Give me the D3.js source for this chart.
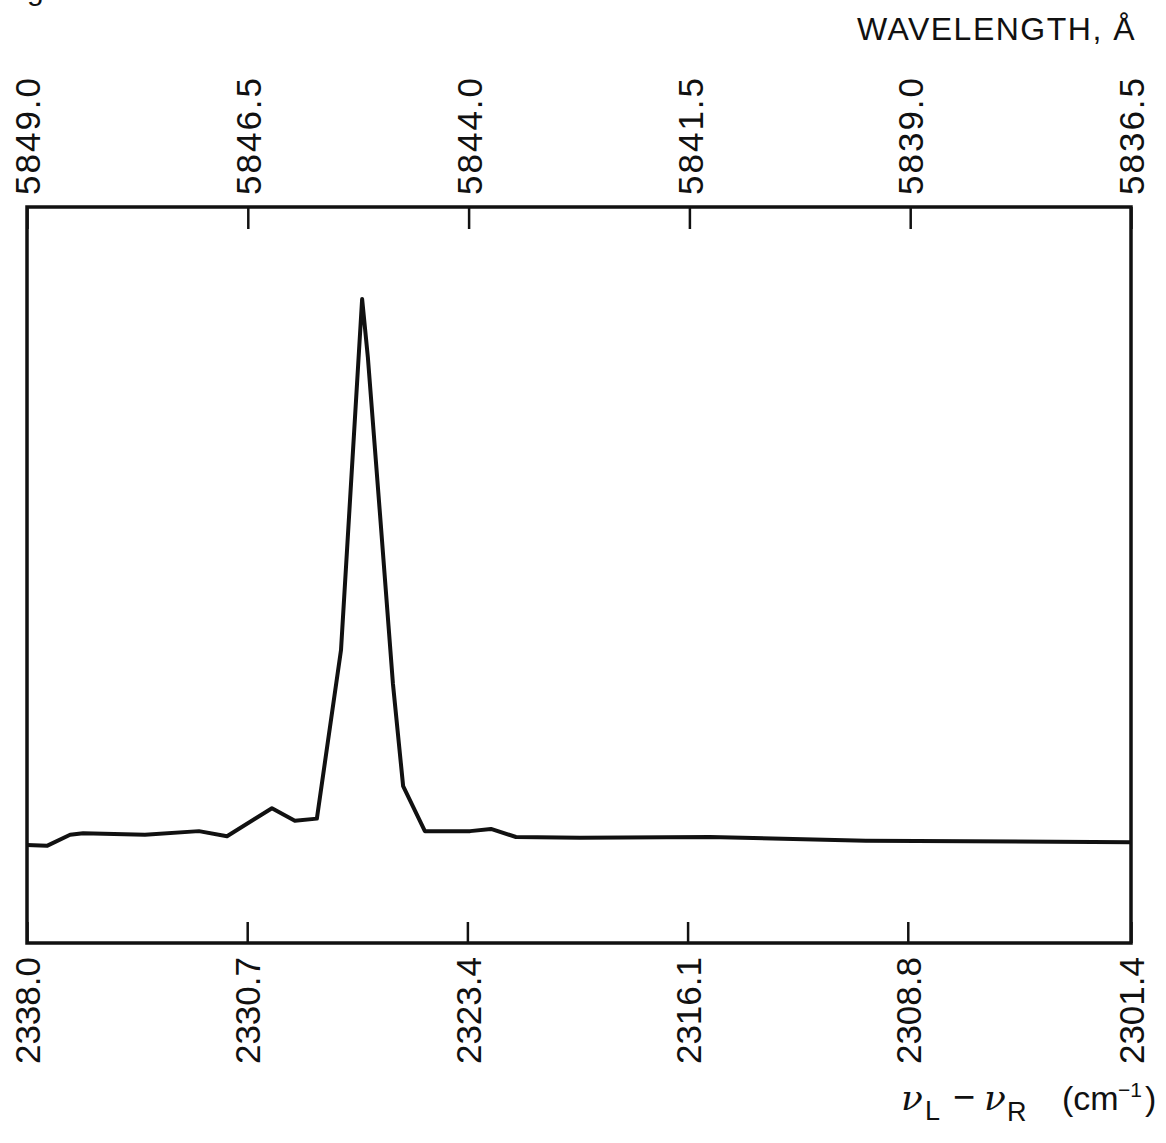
<!DOCTYPE html>
<html>
<head>
<meta charset="utf-8">
<script src="https://cdn.jsdelivr.net/npm/d3@7"></script>
<style>
  body { margin: 0; background: #fff; }
  .chart text { font-family: "Liberation Sans", Arial, sans-serif; fill: #111; }
</style>
</head>
<body>
<div class="chart"></div>
<script>
// raman shift (cm^-1) and relative signal
var shift = [2338.00, 2337.34, 2336.57, 2336.14, 2334.09, 2332.30, 2331.37, 2329.88, 2329.12, 2328.39,
  2327.59, 2326.89, 2326.70, 2326.30, 2325.87, 2325.53, 2324.81, 2323.31, 2322.62, 2321.79,
  2319.67, 2315.36, 2310.19, 2301.40];
var signal = [13.3, 13.2, 14.7, 14.9, 14.7, 15.2, 14.5, 18.3, 16.6, 16.9,
  39.8, 87.5, 79.6, 58.4, 35.3, 21.3, 15.2, 15.2, 15.5, 14.4,
  14.3, 14.4, 13.9, 13.7];

var bottomTickLabels = ["2338.0", "2330.7", "2323.4", "2316.1", "2308.8", "2301.4"];
var topTickLabels = ["5849.0", "5846.5", "5844.0", "5841.5", "5839.0", "5836.5"];

var svgWidth = 1166;
var svgHeight = 1143;

var margin = {
  top: 207,
  right: 35,
  bottom: 200,
  left: 27
};

var width = svgWidth - margin.left - margin.right;
var height = svgHeight - margin.top - margin.bottom;

var svg = d3.select(".chart")
  .append("svg")
  .attr("width", svgWidth)
  .attr("height", svgHeight);

// clipped caption at the very top of the scan
svg.append("text")
  .attr("x", 2)
  .attr("y", 0)
  .style("font-size", "30px")
  .text("Figure 3");

var chartGroup = svg.append("g")
  .attr("transform", `translate(${margin.left}, ${margin.top})`);

var xScale = d3.scaleLinear()
  .domain([2338.0, 2301.4])
  .range([0, width]);

var wlScale = d3.scaleLinear()
  .domain([5849.0, 5836.5])
  .range([0, width]);

var yScale = d3.scaleLinear()
  .domain([0, 100])
  .range([height, 0]);

var bottomAxis = d3.axisBottom(xScale)
  .tickValues(bottomTickLabels.map(Number))
  .tickFormat((d, i) => bottomTickLabels[i])
  .tickSizeInner(-21)
  .tickSizeOuter(0);

var topAxis = d3.axisTop(wlScale)
  .tickValues(topTickLabels.map(Number))
  .tickFormat((d, i) => topTickLabels[i])
  .tickSizeInner(-22)
  .tickSizeOuter(0);

var xAxis = chartGroup.append("g")
  .attr("transform", `translate(0, ${height})`)
  .call(bottomAxis);

var wAxis = chartGroup.append("g")
  .call(topAxis);

[xAxis, wAxis].forEach(function(ax) {
  ax.select(".domain").remove();
  ax.selectAll(".tick line")
    .attr("stroke", "#111")
    .attr("stroke-width", 2.5);
  ax.selectAll(".tick text")
    .attr("transform", "rotate(-90)")
    .attr("y", 0)
    .attr("dy", "0.36em")
    .style("font-size", "35px")
    .style("font-family", "\"Liberation Sans\", Arial, sans-serif")
    .attr("fill", "#111");
});

wAxis.selectAll(".tick text")
  .attr("x", 12)
  .style("letter-spacing", "2px")
  .style("text-anchor", "start");

xAxis.selectAll(".tick text")
  .attr("x", -14)
  .style("text-anchor", "end");

// frame
chartGroup.append("rect")
  .attr("x", 0)
  .attr("y", 0)
  .attr("width", width)
  .attr("height", height)
  .attr("fill", "none")
  .attr("stroke", "#111")
  .attr("stroke-width", 3.5);

var pts = shift.map((s, i) => [s, signal[i]]);

var line = d3.line()
  .x(d => xScale(d[0]))
  .y(d => yScale(d[1]));

chartGroup.append("path")
  .datum(pts)
  .attr("d", line)
  .attr("fill", "none")
  .attr("stroke", "#111")
  .attr("stroke-width", 4)
  .attr("stroke-linejoin", "round");

// axis titles
svg.append("text")
  .attr("x", 1136)
  .attr("y", 40)
  .style("font-size", "32px")
  .style("letter-spacing", "1.5px")
  .style("text-anchor", "end")
  .text("WAVELENGTH, Å");

var xTitle = svg.append("text")
  .attr("y", 1110)
  .style("font-size", "32px");
xTitle.append("tspan").attr("x", 901).style("font-style", "italic").style("font-size", "36px")
  .style("font-family", "\"DejaVu Serif\", serif").text("ν");
xTitle.append("tspan").attr("x", 925).attr("y", 1120).style("font-size", "27px").text("L");
xTitle.append("tspan").attr("x", 953).attr("y", 1110).style("font-size", "38px").text("−");
xTitle.append("tspan").attr("x", 984).style("font-style", "italic").style("font-size", "36px")
  .style("font-family", "\"DejaVu Serif\", serif").text("ν");
xTitle.append("tspan").attr("x", 1007).attr("y", 1121).style("font-size", "27px").text("R");

var unit = svg.append("text")
  .attr("y", 1110)
  .style("font-size", "34px");
unit.append("tspan").attr("x", 1062).text("(cm");
unit.append("tspan").attr("x", 1118).attr("y", 1097).style("font-size", "21px").text("−1");
unit.append("tspan").attr("x", 1145).attr("y", 1110).text(")");
</script>
</body>
</html>
